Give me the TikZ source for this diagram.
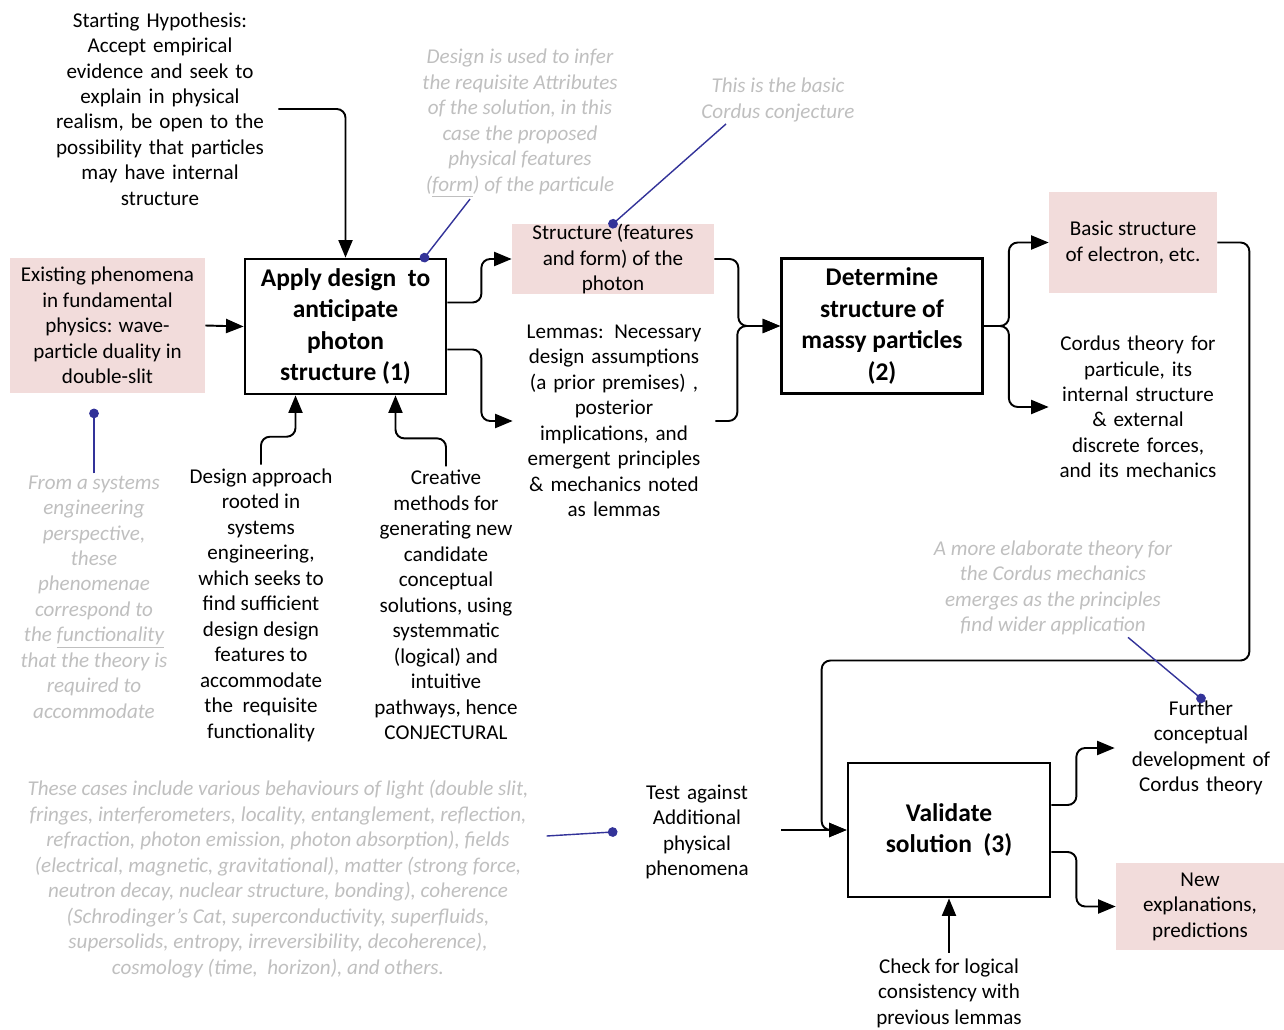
\documentclass[tikz,border=0pt]{standalone}
\usepackage{fontspec}
\setmainfont{Carlito}
\usetikzlibrary{arrows.meta,positioning}
\definecolor{NotePink}{HTML}{F2DCDB}
\definecolor{NoteGrey}{HTML}{BFBFBF}
\definecolor{NoteBlue}{HTML}{333399}

\begin{document}
\begin{tikzpicture}[x=0.02cm,y=-0.02cm,
    mainbox/.style={draw=black,line width=1.6pt,minimum width=4.02cm,minimum height=2.7cm,
      align=center,font=\fontsize{14.5}{18}\selectfont\bfseries},
    pinkbox/.style={fill=NotePink,inner sep=0pt,align=center,
      font=\fontsize{12}{14.5}\selectfont},
    textnode/.style={inner sep=0pt,align=center,font=\fontsize{12}{14.5}\selectfont},
    greynote/.style={inner sep=1pt,align=center,text=NoteGrey,
      font=\fontsize{12}{14.5}\selectfont\itshape},
    arrow/.style={-{Triangle[length=10pt,width=8pt]},line width=1.1pt,rounded corners=5pt},
    pointer/.style={-{Circle[length=5.5pt]},draw=NoteBlue,line width=0.8pt,shorten >=-2.75pt}
  ]
    \useasboundingbox (0,0) rectangle (1284,1030);

    \node[textnode,text width=4.72cm] (hyp) at (160,109) {Starting Hypothesis:\\Accept empirical\\evidence and seek to\\explain in physical\\realism, be open to the\\possibility that particles\\may have internal\\structure};
    \node[pinkbox,minimum width=3.9cm,minimum height=2.7cm] (exist) at (107.5,325.5) {Existing phenomena\\in fundamental\\physics: wave-\\particle duality in\\double-slit};
    \node[mainbox] (apply) at (345.5,326.5) {Apply design\ \ to\\anticipate\\photon\\structure (1)};
    \node[pinkbox,minimum width=4.04cm,minimum height=1.36cm] (struct) at (613,259) {Structure (features\\and form) of the\\photon};
    \node[textnode,text width=4.04cm] (lemmas) at (614,421) {Lemmas: Necessary\\design assumptions\\(a prior premises) ,\\posterior\\implications, and\\emergent principles\\\& mechanics noted\\as lemmas};
    \node[mainbox] (determ) at (882,326) {Determine\\structure of\\massy particles\\(2)};
    \node[pinkbox,minimum width=3.36cm,minimum height=2.02cm] (basic) at (1133,242.5) {Basic structure\\of electron, etc.};
    \node[textnode,text width=3.56cm] (cordus) at (1138,407) {Cordus theory for\\particule, its\\internal structure\\\& external\\discrete forces,\\and its mechanics};
    \node[textnode,inner sep=2pt] (design) at (261,605) {Design approach\\rooted in\\systems\\engineering,\\which seeks to\\find sufficient\\design design\\features to\\accommodate\\the\ \ requisite\\functionality};
    \node[textnode,inner sep=2pt] (creative) at (446,605) {Creative\\methods for\\generating new\\candidate\\conceptual\\solutions, using\\systemmatic\\(logical) and\\intuitive\\pathways, hence\\CONJECTURAL};
    \node[greynote] (fromsys) at (94,597) {From a systems\\engineering\\perspective,\\these\\phenomenae\\correspond to\\the \underline{functionality}\\that the theory is\\required to\\accommodate};
    \node[greynote] (designinf) at (520,123) {Design is used to infer\\the requisite Attributes\\of the solution, in this\\case the proposed\\physical features\\(\underline{form}) of the particule};
    \node[greynote] (basicconj) at (778,100) {This is the basic\\Cordus conjecture};
    \node[greynote] (elab) at (1053,588) {A more elaborate theory for\\the Cordus mechanics\\emerges as the principles\\find wider application};
    \node[mainbox,minimum width=4.04cm,minimum height=2.68cm] (valid) at (949,830) {Validate\\solution\ \ (3)};
    \node[textnode,text width=3.36cm] (test) at (697,832) {Test against\\Additional\\physical\\phenomena};
    \node[textnode,text width=3.44cm] (further) at (1201,748) {Further\\conceptual\\development of\\Cordus theory};
    \node[pinkbox,minimum width=3.36cm,minimum height=1.74cm] (newexp) at (1200,906.5) {New\\explanations,\\predictions};
    \node[textnode,inner sep=3pt] (check) at (949,993) {Check for logical\\consistency with\\previous lemmas};
    \node[greynote] (cases) at (278,879) {These cases include various behaviours of light (double slit,\\fringes, interferometers, locality, entanglement, reflection,\\refraction, photon emission, photon absorption), fields\\(electrical, magnetic, gravitational), matter (strong force,\\neutron decay, nuclear structure, bonding), coherence\\(Schrodinger's Cat, superconductivity, superfluids,\\supersolids, entropy, irreversibility, decoherence),\\cosmology (time,\ \ horizon), and others.};

    % process flow
    \draw[arrow] (hyp.east) -| (apply.north);
    \draw[arrow] (exist.east) -- (apply.west);
    \draw[arrow] ([yshift=0.48cm]apply.east) -- ++(34,0) |- (struct.west);
    \draw[arrow] ([yshift=-0.46cm]apply.east) -- ++(34,0) |- (lemmas.west);
    \draw[arrow] (design.north) -- ++(0,-28) -| ([xshift=-1cm]apply.south);
    \draw[arrow] (creative.north) -- ++(0,-28) -| ([xshift=1cm]apply.south);
    \draw[arrow] (struct.east) -- ++(24,0) |- (determ.west);
    \draw[arrow] (lemmas.east) -- ++(22,0) |- (determ.west);
    \draw[arrow] (determ.east) -- ++(25,0) |- (basic.west);
    \draw[arrow] (determ.east) -- ++(25,0) |- (cordus.west);
    \draw[arrow] (basic.east) -- ++(32,0) -- ++(0,418) -| ([xshift=-0.5cm]valid.west) -- (valid.west);
    \draw[arrow] (test.east |- valid.west) -- (valid.west);
    \draw[arrow] ([yshift=0.5cm]valid.east) -- ++(25,0) |- (further.west);
    \draw[arrow] ([yshift=-0.44cm]valid.east) -- ++(25,0) |- (newexp.west);
    \draw[arrow] (check.north) -- (valid.south);

    % comment pointers
    \draw[pointer] ([xshift=-1cm]designinf.south) -- ([xshift=1.58cm]apply.north);
    \draw[pointer] ([xshift=-1.04cm]basicconj.south) -- (struct.north);
    \draw[pointer] (fromsys.north) -- ++(0,-60);
    \draw[pointer] ([xshift=1.5cm]elab.south) -- ([yshift=0.04cm]further.north);
    \draw[pointer] ([xshift=0.32cm,yshift=0.86cm]cases.east) -- (test.west);
\end{tikzpicture}
\end{document}
